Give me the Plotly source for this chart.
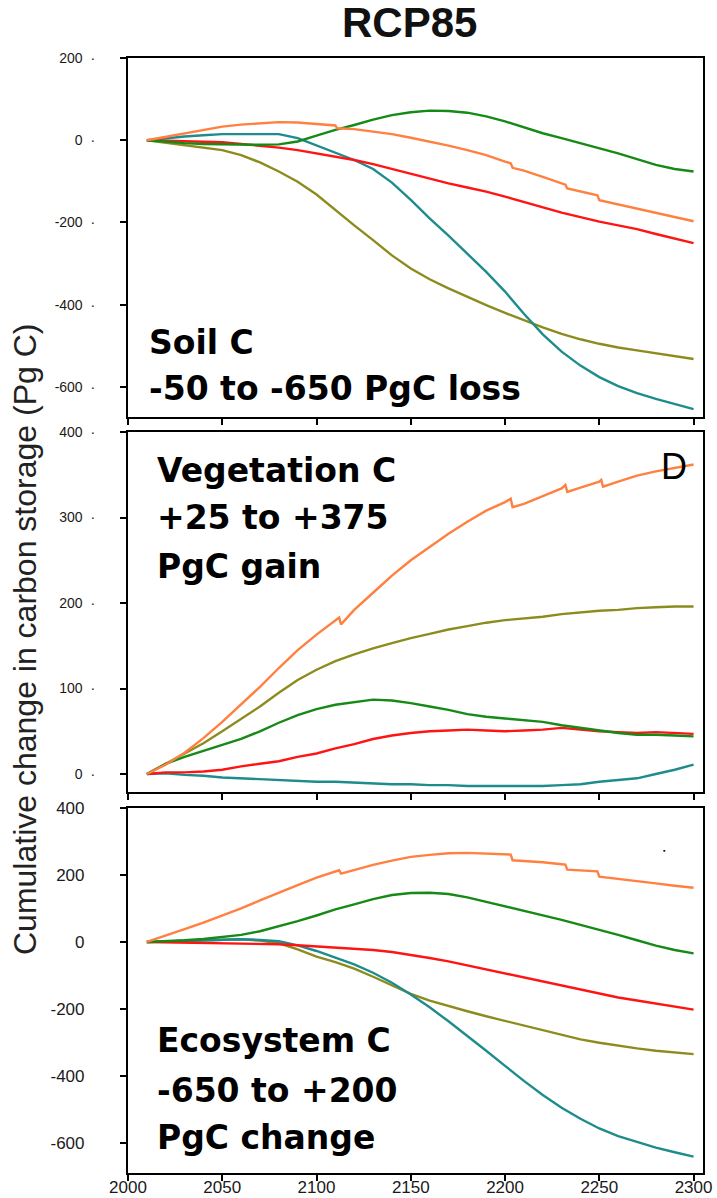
import plotly.graph_objects as go
from plotly.subplots import make_subplots

# ---------------- data ----------------
YEARS = [2010, 2020, 2030, 2040, 2050, 2060, 2070, 2080, 2090, 2100,
         2110, 2120, 2130, 2140, 2150, 2160, 2170, 2180, 2190, 2200,
         2210, 2220, 2230, 2240, 2250, 2260, 2270, 2280, 2290, 2300]

# Soil C
soil_orange_years = [2010, 2020, 2030, 2040, 2050, 2060, 2070, 2080, 2090, 2100,
                     2110, 2111, 2120, 2130, 2140, 2150, 2160, 2170, 2180, 2190,
                     2200, 2203, 2204, 2210, 2220, 2230, 2232, 2233, 2240, 2249,
                     2250, 2260, 2270, 2280, 2290, 2300]
soil_orange = [0, 8, 17, 25, 33, 38, 41, 44, 43, 39,
               36, 29, 27, 21, 15, 6, -3, -13, -24, -36,
               -52, -56, -67, -74, -89, -105, -108, -117, -124, -134,
               -146, -156, -166, -176, -186, -197]
soil_green = [0, -4, -7, -9, -10, -11, -11, -10, -3, 11,
              25, 37, 50, 61, 68, 72, 71, 67, 58, 46,
              32, 17, 5, -7, -20, -32, -46, -60, -70, -76]
soil_red = [0, -1, -3, -4, -5, -9, -13, -18, -24, -32,
            -40, -48, -58, -70, -82, -94, -105, -115, -125, -137,
            -150, -163, -176, -187, -198, -207, -216, -228, -239, -250]
soil_teal = [0, 5, 9, 12, 15, 15, 15, 15, 5, -13,
             -30, -48, -70, -103, -145, -190, -232, -275, -320, -368,
             -422, -472, -514, -548, -576, -598, -615, -629, -642, -654]
soil_olive = [0, -6, -13, -18, -24, -36, -54, -76, -101, -132,
              -170, -207, -243, -280, -312, -338, -360, -381, -401, -420,
              -438, -455, -471, -484, -495, -504, -511, -518, -524, -532]

# Vegetation C
veg_orange_years = [2010, 2020, 2030, 2040, 2050, 2060, 2070, 2080, 2090, 2100,
                    2110, 2112, 2113, 2120, 2130, 2140, 2150, 2160, 2170, 2180,
                    2190, 2200, 2203, 2204, 2210, 2220, 2230, 2232, 2233, 2240,
                    2250, 2251, 2252, 2260, 2270, 2280, 2290, 2300]
veg_orange = [0, 11, 25, 42, 61, 81, 102, 124, 145, 163,
              179, 183, 175, 192, 212, 232, 250, 266, 281, 295,
              308, 318, 322, 312, 316, 325, 334, 338, 330, 335,
              342, 344, 336, 342, 349, 354, 358, 362]
veg_green = [0, 12, 20, 27, 34, 41, 50, 60, 69, 76,
             81, 84, 87, 86, 83, 79, 75, 70, 67, 65,
             63, 61, 57, 54, 51, 48, 46, 46, 45, 44]
veg_red = [0, 2, 2, 3, 5, 9, 12, 15, 20, 24,
           30, 35, 41, 45, 48, 50, 51, 52, 51, 50,
           51, 52, 54, 52, 50, 49, 48, 49, 48, 47]
veg_teal = [0, 1, -1, -2, -4, -5, -6, -7, -8, -9,
            -9, -10, -11, -12, -12, -13, -13, -14, -14, -14,
            -14, -14, -13, -12, -9, -7, -5, 0, 5, 11]
veg_olive = [0, 12, 24, 36, 50, 64, 79, 95, 110, 122,
             132, 140, 147, 153, 159, 164, 169, 173, 177, 180,
             182, 184, 187, 189, 191, 192, 194, 195, 196, 196]

# Ecosystem C
eco_orange_years = [2010, 2020, 2030, 2040, 2050, 2060, 2070, 2080, 2090, 2100,
                    2110, 2112, 2113, 2120, 2130, 2140, 2150, 2160, 2170, 2180,
                    2190, 2200, 2203, 2204, 2210, 2220, 2230, 2232, 2233, 2240,
                    2249, 2250, 2260, 2270, 2280, 2290, 2300]
eco_orange = [0, 18, 38, 58, 78, 100, 124, 148, 170, 192,
              210, 214, 204, 215, 230, 243, 254, 260, 265, 266,
              264, 262, 261, 244, 242, 238, 232, 231, 216, 214,
              211, 195, 189, 182, 175, 168, 162]
eco_green = [0, 2, 5, 9, 14, 21, 32, 46, 62, 79,
             97, 112, 128, 140, 146, 147, 143, 133, 120, 107,
             94, 81, 66, 51, 37, 21, 5, -11, -24, -34]
eco_red = [0, -1, -2, -3, -4, -4, -5, -7, -10, -13,
           -16, -19, -24, -30, -38, -48, -58, -70, -83, -96,
           -107, -119, -130, -142, -155, -166, -175, -184, -192, -202]
eco_teal = [0, 2, 4, 6, 8, 8, 6, 2, -10, -27,
            -47, -67, -92, -122, -157, -195, -237, -280, -325, -370,
            -415, -457, -495, -528, -557, -580, -598, -614, -628, -641]
eco_olive = [0, 2, 4, 6, 8, 8, 4, -4, -22, -44,
             -60, -80, -104, -130, -155, -175, -192, -207, -222, -236,
             -250, -264, -279, -291, -301, -310, -318, -325, -330, -335]

X_TICKS = [2000, 2050, 2100, 2150, 2200, 2250, 2300]
X_TICK_TEXT = ["2000", "2050", "2100", "2150", "2200", "2250", "2300"]
SOIL_TICKS = [200, 0, -200, -400, -600]
SOIL_TICK_TEXT = ["200", "0", "-200", "-400", "-600"]
VEG_TICKS = [400, 300, 200, 100, 0]
VEG_TICK_TEXT = ["400", "300", "200", "100", "0"]
ECO_TICKS = [400, 200, 0, -200, -400, -600]
ECO_TICK_TEXT = ["400", "200", "0", "-200", "-400", "-600"]

COL = dict(orange="#FF8040", green="#168A16", red="#FF1414",
           teal="#1E8C8C", olive="#8C8C1E")

# ---------------- layout geometry ----------------
W, H = 717, 1198
ML, MR, MT, MB = 128, 14, 58, 25
PW, PH = W - ML - MR, H - MT - MB


def px(xp):
    return (xp - ML) / PW


def py(yp):
    return (H - MB - yp) / PH


fig = make_subplots(rows=3, cols=1, shared_xaxes=True, vertical_spacing=0.01)

panels = [
    (1, soil_orange_years, soil_orange, soil_green, soil_red, soil_teal, soil_olive),
    (2, veg_orange_years, veg_orange, veg_green, veg_red, veg_teal, veg_olive),
    (3, eco_orange_years, eco_orange, eco_green, eco_red, eco_teal, eco_olive),
]
for row, oy, o, g, r, t, ol in panels:
    for xs, ys, c in [(YEARS, ol, COL["olive"]), (YEARS, t, COL["teal"]),
                      (YEARS, r, COL["red"]), (YEARS, g, COL["green"]),
                      (oy, o, COL["orange"])]:
        fig.add_trace(go.Scatter(x=xs, y=ys, mode="lines",
                                 line=dict(color=c, width=2.4),
                                 showlegend=False, hoverinfo="skip"),
                      row=row, col=1)

axis_common = dict(showline=True, linecolor="black", linewidth=2.2, mirror=True,
                   ticks="outside", ticklen=6, tickcolor="black", tickwidth=1.5,
                   showgrid=False, zeroline=False, automargin=False)

fig.update_xaxes(range=[2000, 2305], tickvals=X_TICKS, **axis_common)
fig.update_xaxes(ticktext=X_TICK_TEXT, showticklabels=True, ticklabelstandoff=-9,
                 tickfont=dict(family="Liberation Sans", size=17, color="#1a1a1a"),
                 row=3, col=1)

NB = "\u00a0"
small_font = dict(family="Liberation Sans", size=14, color="#1a1a1a")
fig.update_yaxes(range=[-673, 200], tickvals=SOIL_TICKS,
                 ticktext=[t + NB * 2 + "·" for t in SOIL_TICK_TEXT],
                 domain=[py(417), 1.0], tickfont=small_font,
                 ticklabelstandoff=22, **axis_common, row=1, col=1)
fig.update_yaxes(range=[-21, 400], tickvals=VEG_TICKS,
                 ticktext=[t + NB * 2 + "·" for t in VEG_TICK_TEXT],
                 domain=[py(792), py(432)], tickfont=small_font,
                 ticklabelstandoff=22, **axis_common, row=2, col=1)
fig.update_yaxes(range=[-690, 400], tickvals=ECO_TICKS, ticktext=ECO_TICK_TEXT,
                 domain=[0.0, py(808)],
                 tickfont=dict(family="Liberation Sans", size=17, color="#1a1a1a"),
                 ticklabelstandoff=32, **axis_common, row=3, col=1)

annots = []
BIG = dict(family="DejaVu Sans", size=33, color="black", weight="bold")


def label(text, xp, yp, font=BIG, anchor="left"):
    annots.append(dict(text=text, x=px(xp), y=py(yp), xref="paper", yref="paper",
                       xanchor=anchor, yanchor="middle", showarrow=False, font=font))


label("Soil C", 147, 343)
label("-50 to -650 PgC loss", 147, 389)
label("Vegetation C", 155, 470)
label("+25 to +375", 155, 517)
label("PgC gain", 155, 566)
label("Ecosystem C", 155, 1040)
label("-650 to +200", 155, 1090)
label("PgC change", 155, 1137)
label("D", 674, 466, dict(family="Liberation Sans", size=36, color="black"), "center")
label("▪", 664, 850, dict(family="Liberation Sans", size=7, color="black"), "center")

annots.append(dict(text="Cumulative change in carbon storage (Pg C)",
                   x=px(25), y=py(640), xref="paper", yref="paper",
                   xanchor="center", yanchor="middle", textangle=-90,
                   showarrow=False,
                   font=dict(family="Liberation Sans", size=32, color="#222222")))
annots.append(dict(text="<b>RCP85</b>", x=px(409), y=py(23), xref="paper", yref="paper",
                   xanchor="center", yanchor="middle", showarrow=False,
                   font=dict(family="Liberation Sans", size=42, color="#111111")))

fig.update_layout(width=W, height=H, margin=dict(l=ML, r=MR, t=MT, b=MB, autoexpand=False),
                  plot_bgcolor="white", paper_bgcolor="white",
                  annotations=annots, showlegend=False)

fig.write_html("out.html", config={"displayModeBar": False},
               post_script="document.body.style.margin='0';document.body.style.overflow='hidden';")
